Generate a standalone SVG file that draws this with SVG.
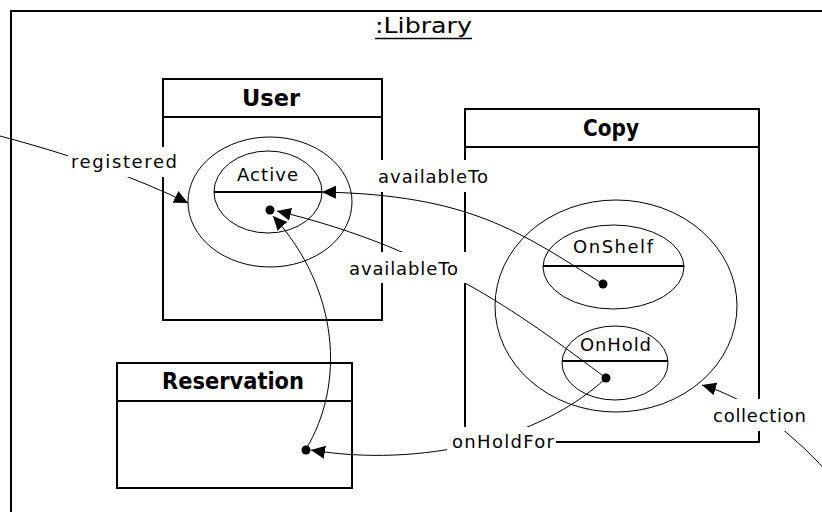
<svg xmlns="http://www.w3.org/2000/svg" width="822" height="512" viewBox="0 0 822 512">
<style>
.box{fill:none;stroke:#000;stroke-width:2}
.ell{fill:none;stroke:#000;stroke-width:1}
.div{stroke:#000;stroke-width:2}
.con{fill:none;stroke:#000;stroke-width:1}
.hdr{font-family:"DejaVu Sans",sans-serif;font-size:23px;font-weight:bold;text-anchor:middle;fill:#000}
.lbl{font-family:"DejaVu Sans",sans-serif;font-size:18px;fill:#000}
.bg{fill:#fff;stroke:none}
.dot{fill:#000}
</style>
<defs>
<marker id="arr" markerUnits="userSpaceOnUse" markerWidth="15" markerHeight="14" refX="14" refY="6.5" orient="auto"><path d="M0,0 L14,6.5 L0,13 z" fill="#000"/></marker>
</defs>
<rect width="822" height="512" fill="#fff"/>
<g id="frame">
<rect x="11" y="11" width="840" height="530" class="box"/>
<text x="375" y="33" class="lbl" style="font-size:22px" textLength="97" lengthAdjust="spacingAndGlyphs">:Library</text>
<line x1="375" y1="38.5" x2="472" y2="38.5" stroke="#000" stroke-width="1.5"/>
</g>
<g id="user">
<rect x="163" y="79" width="219" height="241" class="box"/>
<line x1="163" y1="117" x2="382" y2="117" class="div"/>
<text x="271" y="106" class="hdr" textLength="58" lengthAdjust="spacingAndGlyphs">User</text>
<ellipse cx="270" cy="202" rx="82" ry="65" class="ell"/>
<g id="active">
<ellipse cx="268" cy="192" rx="54" ry="41" class="ell"/>
<line x1="214" y1="192" x2="322" y2="192" class="div"/>
<text x="237" y="181" class="lbl" textLength="61" lengthAdjust="spacing">Active</text>
<circle cx="270" cy="210" r="4.5" class="dot"/>
</g>
</g>
<g id="copy">
<rect x="465" y="109" width="294" height="333" class="box"/>
<line x1="465" y1="147" x2="759" y2="147" class="div"/>
<text x="611" y="136" class="hdr" textLength="56" lengthAdjust="spacingAndGlyphs">Copy</text>
<ellipse cx="616" cy="306" rx="121" ry="106" class="ell"/>
<g id="onshelf">
<ellipse cx="613.5" cy="267" rx="70.5" ry="42" class="ell"/>
<line x1="543" y1="266" x2="684" y2="266" class="div"/>
<text x="573" y="253" class="lbl" textLength="80" lengthAdjust="spacing">OnShelf</text>
<circle cx="603" cy="284" r="4.5" class="dot"/>
</g>
<g id="onhold">
<ellipse cx="615" cy="363" rx="53" ry="37" class="ell"/>
<line x1="562" y1="361" x2="668" y2="361" class="div"/>
<text x="580" y="351" class="lbl" textLength="71" lengthAdjust="spacing">OnHold</text>
<circle cx="606" cy="378" r="4.5" class="dot"/>
</g>
</g>
<g id="reservation">
<rect x="117" y="363" width="235" height="125" class="box"/>
<line x1="117" y1="401" x2="352" y2="401" class="div"/>
<text x="233" y="389" class="hdr" textLength="142" lengthAdjust="spacingAndGlyphs">Reservation</text>
<circle cx="306" cy="450" r="4.5" class="dot"/>
</g>
<g id="connectors">
<path d="M0,136 Q110,165 188,203" class="con" marker-end="url(#arr)"/>
<path d="M603,284 C520,232 470,195 322,192" class="con" marker-end="url(#arr)"/>
<path d="M606,378 C530,322 440,250 277,211" class="con" marker-end="url(#arr)"/>
<path d="M306,449 C345,385 340,290 273,216" class="con" marker-end="url(#arr)"/>
<path d="M606,378 C540,440 420,468 311,450" class="con" marker-end="url(#arr)"/>
<path d="M836,482 Q770,405 702,385" class="con" marker-end="url(#arr)"/>
</g>
<g id="labels">
<rect x="68" y="147" width="112" height="30" class="bg"/>
<text x="71" y="168" class="lbl" textLength="106" lengthAdjust="spacing">registered</text>
<rect x="375" y="160" width="117" height="32" class="bg"/>
<text x="378" y="183" class="lbl" textLength="110" lengthAdjust="spacing">availableTo</text>
<rect x="346" y="252" width="121" height="31" class="bg"/>
<text x="349" y="275" class="lbl" textLength="109" lengthAdjust="spacing">availableTo</text>
<rect x="447" y="427" width="109" height="30" class="bg"/>
<text x="452" y="448" class="lbl" textLength="102" lengthAdjust="spacing">onHoldFor</text>
<rect x="710" y="399" width="100" height="32" class="bg"/>
<text x="713" y="422" class="lbl" textLength="93" lengthAdjust="spacing">collection</text>
</g>
</svg>
